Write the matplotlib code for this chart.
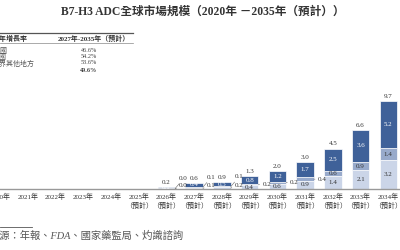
import numpy as np
import matplotlib.pyplot as plt
from matplotlib.lines import Line2D

plt.rcParams['font.family'] = ['Liberation Serif', 'Noto Sans CJK TC']

# 數據（十億美元）
years = np.arange(2020, 2035)
rest = [0, 0, 0, 0, 0, 0, 0.04, 0.15, 0.2, 0.4, 0.6, 0.9, 1.4, 2.1, 3.2]
middle = [0, 0, 0, 0, 0, 0, 0.03, 0.1, 0.1, 0.2, 0.2, 0.4, 0.6, 0.9, 1.4]
top = [0, 0, 0, 0, 0, 0, 0.14, 0.4, 0.5, 0.8, 1.2, 1.7, 2.5, 3.6, 5.2]
totals = [None] * 6 + [0.2, 0.6, 0.9, 1.3, 2.0, 3.0, 4.5, 6.6, 9.7]

tick_labels = [f'{y}年' if y < 2025 else f'{y}年\n（預計）' for y in years]

cagr_regions = ['中國', '美國', '世界其他地方', '']
cagr_values = ['46.6%', '54.2%', '53.6%', '49.6%']

c_light = '#cbd5e8'
c_mid = '#98aacb'
c_dark = '#3f6199'

fig = plt.figure(figsize=(4, 2.5), dpi=100)
ax = fig.add_axes([0, 0.244, 1, 0.556])

w = 0.63
rest = np.array(rest)
middle = np.array(middle)
top = np.array(top)
ax.bar(years, rest, w, color=c_light, edgecolor='white', linewidth=0.5)
ax.bar(years, middle, w, bottom=rest, color=c_mid, edgecolor='white', linewidth=0.5)
ax.bar(years, top, w, bottom=rest + middle, color=c_dark, edgecolor='white', linewidth=0.5)

fs = 5
for i, y in enumerate(years):
    if totals[i] is None:
        continue
    b, m, t = rest[i], middle[i], top[i]
    ax.text(y, b + m + t + 0.25, f'{totals[i]:.1f}', ha='center', va='bottom',
            fontsize=fs, color='#333333')
    ax.text(y, b + m + t / 2, f'{t:.1f}', ha='center', va='center',
            fontsize=fs, color='white')
    lead = dict(arrowstyle='-', color='#666666', lw=0.4, shrinkA=0, shrinkB=0)
    if b >= 0.3:
        ax.text(y, b / 2, f'{b:.1f}', ha='center', va='center', fontsize=fs, color='#333333')
    else:
        ax.annotate(f'{b:.1f}', xy=(y + w / 2, b / 2), xytext=(4, 3),
                    textcoords='offset pixels', ha='left', va='center',
                    fontsize=fs, color='#333333', arrowprops=lead)
    if m >= 0.5:
        ax.text(y, b + m / 2, f'{m:.1f}', ha='center', va='center', fontsize=fs, color='#333333')
    elif b >= 0.3:
        ax.annotate(f'{m:.1f}', xy=(y + w / 2, b + m / 2), xytext=(4, 0),
                    textcoords='offset pixels', ha='left', va='center',
                    fontsize=fs, color='#333333', arrowprops=lead)
    else:
        ax.annotate(f'{m:.1f}', xy=(y + w / 2, b + m / 2), xytext=(4, 10),
                    textcoords='offset pixels', ha='left', va='center',
                    fontsize=fs, color='#333333', arrowprops=lead)

ax.set_xlim(2020.04, 2034.42)
ax.set_ylim(0, 15.5)
ax.set_xticks(years)
ax.set_xticklabels(tick_labels, fontsize=5, color='#333333', linespacing=1.3)
ax.tick_params(axis='x', length=0, pad=3)
ax.set_yticks([])
for s in ['top', 'left', 'right']:
    ax.spines[s].set_visible(False)
ax.spines['bottom'].set_color('#999999')
ax.spines['bottom'].set_linewidth(1.0)
ax.patch.set_alpha(0)

def px(x, y):
    return x / 400, 1 - y / 250

# 標題
fig.text(*px(203, 12), 'B7-H3 ADC全球市場規模（2020年 －2035年（預計））',
         ha='center', va='center', fontsize=8.4, fontweight='bold', color='#333333')

# 複合年增長率表
fig.add_artist(Line2D([0, 133 / 400], [1 - 33 / 250] * 2, color='#555555', lw=0.9))
fig.add_artist(Line2D([0, 133 / 400], [1 - 43.5 / 250] * 2, color='#888888', lw=0.5))
fig.text(*px(-14, 38), '複合年增長率', ha='left', va='center', fontsize=5, fontweight='bold', color='#333333')
fig.text(*px(130, 38), '2027年-2035年（預計）', ha='right', va='center', fontsize=5,
         fontweight='bold', color='#333333')
row_y = [50, 56.5, 63, 70]
for name, val, ry in zip(cagr_regions, cagr_values, row_y):
    bold = 'bold' if name == '' else 'normal'
    if name:
        fig.text(*px(-7, ry), name, ha='left', va='center', fontsize=5, color='#555555')
    fig.text(*px(97, ry), val, ha='right', va='center', fontsize=4.5, fontweight=bold, color='#444444')

# 資料來源
fig.add_artist(Line2D([0, 32 / 400], [1 - 227 / 250] * 2, color='#555555', lw=0.6))
fig.text(*px(-10.5, 236), '來源：年報、FDA、國家藥監局、灼識諮詢', ha='left', va='center',
         fontsize=7.4, color='#555555', style='italic')

fig.savefig('out.png', dpi=100)
